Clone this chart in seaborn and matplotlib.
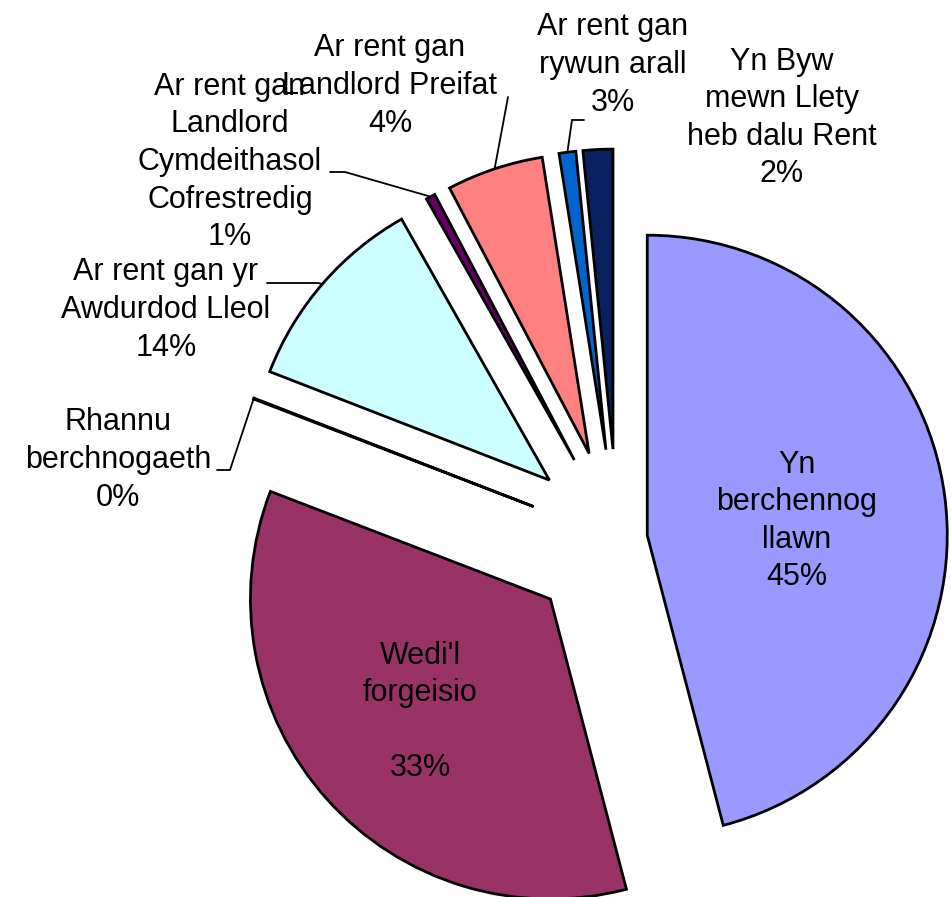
import matplotlib
matplotlib.use("Agg")
import matplotlib.pyplot as plt
import numpy as np
import seaborn as sns

# canvas size in pixels (dpi 100)
W, H = 951, 897

# --- data ---
categories = [
    "Yn\nberchennog\nllawn",
    "Wedi'l\nforgeisio\n",
    "Rhannu\nberchnogaeth",
    "Ar rent gan yr\nAwdurdod Lleol",
    "Ar rent gan\nLandlord\nCymdeithasol\nCofrestredig",
    "Ar rent gan\nLandlord Preifat",
    "Ar rent gan\nrywun arall",
    "Yn Byw\nmewn Llety\nheb dalu Rent",
]
pct_labels = ["45%", "33%", "0%", "14%", "1%", "4%", "3%", "2%"]
# slice sizes as drawn in the picture (%)
shares = [45.9, 34.9, 0.05, 10.9, 0.5, 5.2, 0.9, 1.6]

# --- style / layout ---
colors = ["#9999FF", "#993366", "#FFFFFF", "#CCFFFF",
          "#660066", "#FF8080", "#0066CC", "#0A215F"]
pie_center = (617.5, H - 539)
pie_radius = 300
# explode as a fraction of the radius (pie() wants data units)
explode_frac = [0.1, 0.3, 0.3, 0.3, 0.3, 0.3, 0.3, 0.3]

# text block centres (pixels from top-left)
label_pos = [(797, 521), (420, 712), (118, 460), (166, 310),
             (230, 162), (390, 86), (613, 65), (782, 118)]
# leader lines: start point next to text, elbow point (pixels from top-left)
leaders = {
    2: ((217, 470), (230, 470)),
    3: ((267, 283), (318, 283)),
    4: ((330, 172), (345, 172)),
    5: ((508, 97), (508, 97)),
    6: ((584, 120), (572, 120)),
}

sns.set_theme(style="white")
plt.rcParams["font.family"] = ["Liberation Sans", "DejaVu Sans"]

fig = plt.figure(figsize=(W / 100, H / 100), dpi=100)
ax = fig.add_axes([0, 0, 1, 1])

wedges, _ = ax.pie(
    shares,
    colors=sns.color_palette(colors),
    explode=[e * pie_radius for e in explode_frac],
    startangle=90,
    counterclock=False,
    radius=pie_radius,
    center=pie_center,
    wedgeprops=dict(edgecolor="black", linewidth=2.0, joinstyle="miter"),
)

ax.set_xlim(0, W)
ax.set_ylim(0, H)
ax.set_aspect("equal")
ax.axis("off")

for i, (cat, pct) in enumerate(zip(categories, pct_labels)):
    x, y = label_pos[i]
    ax.text(x, H - y, f"{cat}\n{pct}", ha="center", va="center",
            fontsize=22, linespacing=1.33, color="black")

# leader lines to the middle of each wedge's outer arc
for i, (start, elbow) in leaders.items():
    w = wedges[i]
    t = np.deg2rad((w.theta1 + w.theta2) / 2)
    ex = w.center[0] + w.r * np.cos(t)
    ey = w.center[1] + w.r * np.sin(t)
    ax.plot([start[0], elbow[0], ex], [H - start[1], H - elbow[1], ey],
            color="black", lw=1.3, solid_joinstyle="miter")

fig.savefig("out.png", dpi=100, facecolor="white")
plt.close(fig)
